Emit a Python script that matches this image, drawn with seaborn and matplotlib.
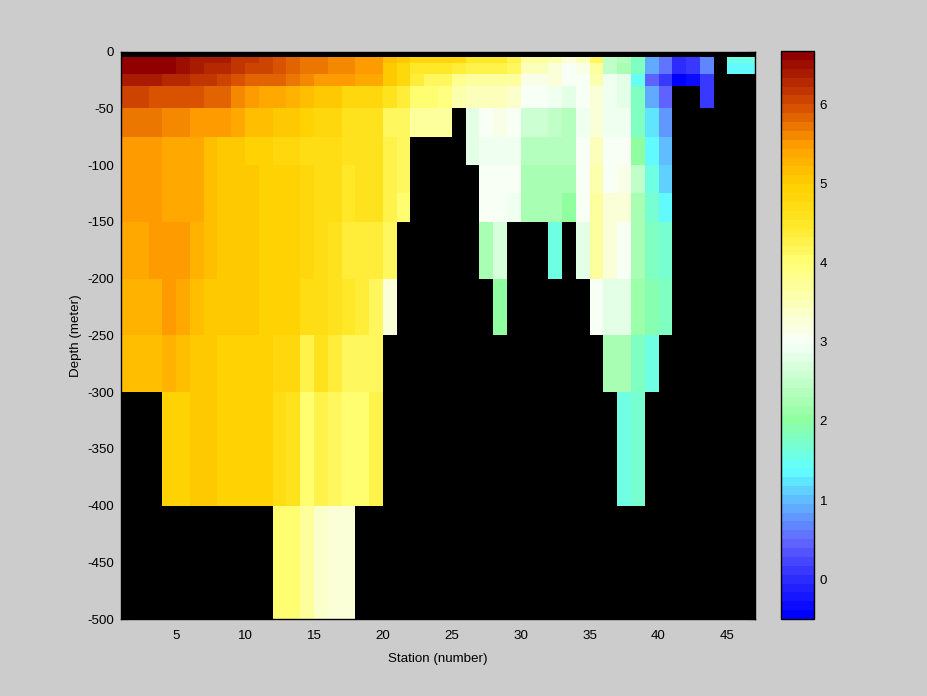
import numpy as np
import pandas as pd
import matplotlib
matplotlib.use('Agg')
import matplotlib.pyplot as plt
import seaborn as sns
from matplotlib.colors import LinearSegmentedColormap

n = np.nan

# station index of the left edge of each cell (cells run from station k to k+1)
stations = list(range(1, 47))
# layer boundaries in metres
depth_edges = [0, 5, 10, 20, 30, 50, 75, 100, 125, 150, 200, 250, 300, 400, 500]

# one list per depth layer, stations 1..46 (nan = no data, drawn black)
layer_0_5 = [n] * 46
layer_5_10 = [6.6, 6.6, 6.6, 6.6, 6.5, 6.4, 6.35, 6.35, 6.2, 6.2,
              6.05, 5.95, 5.85, 5.75, 5.75, 5.65, 5.55, 5.45, 5.45, 5.2,
              5.05, 4.8, 4.8, 4.8, 4.8, 4.5, 4.45, 4.45, 4.25, 3.75,
              3.75, 3.55, 3.2, 3.45, 4.2, 2.45, 2.35, 1.75, 0.9, 0.55,
              -0.05, 0.15, 0.7, n, 1.55, 1.55]
layer_10_20 = [6.6, 6.6, 6.6, 6.6, 6.5, 6.4, 6.25, 6.25, 6.15, 6.05,
               6.05, 5.95, 5.85, 5.75, 5.75, 5.65, 5.55, 5.45, 5.45, 5.0,
               4.8, 4.5, 4.5, 4.5, 4.4, 4.3, 4.3, 4.3, 4.1, 3.5,
               3.5, 3.3, 3.0, 3.1, 3.65, 2.45, 2.3, 1.75, 0.9, 0.55,
               -0.05, 0.15, 0.7, n, 1.3, 1.3]
layer_20_30 = [6.35, 6.35, 6.35, 6.25, 6.25, 6.15, 6.15, 6.05, 5.95, 5.85,
               5.8, 5.8, 5.7, 5.6, 5.5, 5.5, 5.45, 5.35, 5.35, 5.0,
               4.8, 4.4, 4.1, 4.1, 3.8, 3.75, 3.75, 3.7, 3.65, 3.15,
               3.15, 3.3, 3.0, 3.05, 3.6, 2.9, 2.8, 1.5, 0.5, 0.1,
               -0.5, -0.3, 0.15, n, n, n]
layer_30_50 = [6.05, 6.05, 5.95, 5.95, 5.9, 5.9, 5.8, 5.8, 5.55, 5.5,
               5.4, 5.4, 5.3, 5.15, 5.05, 5.05, 4.85, 4.85, 4.85, 4.6,
               4.4, 4.0, 4.0, 3.95, 3.55, 3.5, 3.5, 3.45, 3.4, 3.05,
               3.05, 2.9, 2.75, 3.0, 3.3, 2.9, 2.75, 1.75, 0.95, 0.4,
               n, n, 0.15, n, n, n]
layer_50_75 = [5.7, 5.7, 5.7, 5.55, 5.55, 5.5, 5.5, 5.45, 5.35, 5.15,
               5.15, 5.0, 5.0, 4.9, 4.8, 4.8, 4.55, 4.65, 4.65, 4.2,
               4.1, 3.7, 3.7, 3.7, n, 2.75, 3.0, 3.15, 3.05, 2.6,
               2.6, 2.45, 2.35, 2.9, 3.3, 2.9, 2.9, 1.75, 1.25, 0.75,
               n, n, n, n, n, n]
layer_75_100 = [5.45, 5.45, 5.45, 5.4, 5.4, 5.4, 5.15, 5.0, 5.0, 4.95,
                4.95, 4.85, 4.85, 4.75, 4.75, 4.75, 4.55, 4.65, 4.65, 4.25,
                4.1, n, n, n, n, 2.75, 2.9, 2.9, 2.9, 2.35,
                2.35, 2.35, 2.35, 3.0, 3.45, 3.05, 3.05, 2.0, 1.4, 1.0,
                n, n, n, n, n, n]
layer_100_125 = [5.45, 5.45, 5.45, 5.4, 5.4, 5.4, 5.15, 5.05, 5.05, 5.0,
                 4.9, 4.9, 4.9, 4.8, 4.75, 4.75, 4.45, 4.55, 4.65, 4.25,
                 4.1, n, n, n, n, n, 3.0, 3.0, 3.0, 2.25,
                 2.25, 2.3, 2.25, 3.0, 3.6, 3.05, 3.15, 2.45, 1.6, 1.1,
                 n, n, n, n, n, n]
layer_125_150 = [5.45, 5.45, 5.45, 5.4, 5.4, 5.4, 5.15, 5.0, 5.0, 5.0,
                 4.9, 4.9, 4.9, 4.8, 4.75, 4.75, 4.45, 4.55, 4.55, 4.3,
                 4.0, n, n, n, n, n, 3.0, 3.0, 2.9, 2.3,
                 2.3, 2.3, 2.0, 3.0, 3.75, 3.2, 3.2, 2.3, 1.7, 1.3,
                 n, n, n, n, n, n]
layer_150_200 = [5.4, 5.4, 5.5, 5.45, 5.45, 5.3, 5.15, 5.0, 5.0, 5.0,
                 4.9, 4.9, 4.9, 4.85, 4.75, 4.6, 4.35, 4.35, 4.35, 4.2,
                 n, n, n, n, n, n, 2.25, 2.7, n, n,
                 n, 1.55, n, 2.75, 3.75, 3.2, 3.05, 2.3, 1.85, 1.7,
                 n, n, n, n, n, n]
layer_200_250 = [5.3, 5.3, 5.3, 5.45, 5.4, 5.2, 5.1, 5.0, 5.0, 5.0,
                 4.95, 4.95, 4.95, 4.75, 4.7, 4.55, 4.45, 4.35, 4.15, 3.3,
                 n, n, n, n, n, n, n, 2.0, n, n,
                 n, n, n, n, 3.0, 2.75, 2.75, 2.1, 1.9, 1.8,
                 n, n, n, n, n, n]
layer_250_300 = [5.15, 5.15, 5.15, 5.25, 5.15, 5.0, 5.0, 4.95, 4.9, 4.9,
                 4.9, 4.85, 4.85, 4.25, 4.55, 4.35, 4.2, 4.1, 4.1, n,
                 n, n, n, n, n, n, n, n, n, n,
                 n, n, n, n, n, 2.25, 2.25, 1.85, 1.6, n,
                 n, n, n, n, n, n]
layer_300_400 = [n, n, n, 4.95, 4.9, 5.05, 5.05, 4.95, 4.95, 4.9,
                 4.9, 4.7, 4.6, 4.0, 4.3, 4.1, 4.0, 4.0, 4.25, n,
                 n, n, n, n, n, n, n, n, n, n,
                 n, n, n, n, n, n, 1.6, 1.7, n, n,
                 n, n, n, n, n, n]
layer_400_500 = [n, n, n, n, n, n, n, n, n, n,
                 n, 4.05, 4.05, 3.7, 3.4, 3.3, 3.3, n, n, n,
                 n, n, n, n, n, n, n, n, n, n,
                 n, n, n, n, n, n, n, n, n, n,
                 n, n, n, n, n, n]

x_ticks = [5, 10, 15, 20, 25, 30, 35, 40, 45]
y_ticks = [0, 50, 100, 150, 200, 250, 300, 350, 400, 450, 500]
cbar_ticks = [0, 1, 2, 3, 4, 5, 6]
vmin, vmax = -0.5, 6.67

layers = [layer_0_5, layer_5_10, layer_10_20, layer_20_30, layer_30_50,
          layer_50_75, layer_75_100, layer_100_125, layer_125_150,
          layer_150_200, layer_200_250, layer_250_300, layer_300_400,
          layer_400_500]
grid = np.array(layers, dtype=float)

# heatmap cells are uniform, so repeat each layer by its thickness in 5 m steps
step = 5
reps = np.diff(depth_edges) // step
fine = pd.DataFrame(np.repeat(grid, reps, axis=0), columns=stations)

# MATLAB-like colormap, 64 levels
anchor_vals = [-0.5, 0.0, 0.4, 1.0, 1.35, 2.0, 3.0, 4.0, 4.5, 5.0, 5.5, 6.0, 6.67]
anchor_cols = ['#0000ff', '#3030ff', '#6060ff', '#60c0ff', '#60ffff', '#90ffa0',
               '#f8fff8', '#ffff78', '#ffe828', '#ffd000', '#ffa000', '#d85000',
               '#900000']
pos = [(v - vmin) / (vmax - vmin) for v in anchor_vals]
cmap = LinearSegmentedColormap.from_list('sect', list(zip(pos, anchor_cols)), N=64)

sns.set_style('white')
plt.rcParams['font.family'] = ['Liberation Sans', 'DejaVu Sans']
plt.rcParams['font.size'] = 9.6

fig = plt.figure(figsize=(9.28, 6.96), dpi=100, facecolor='#cccccc')
ax = fig.add_axes([0.1304, 0.1106, 0.6832, 0.8154])
cax = fig.add_axes([0.8416, 0.1106, 0.0356, 0.8160])
ax.set_facecolor('black')

sns.heatmap(fine, cmap=cmap, vmin=vmin, vmax=vmax, ax=ax, cbar_ax=cax,
            xticklabels=False, yticklabels=False, linewidths=0)

ax.set_xticks([s - 1 for s in x_ticks])
ax.set_xticklabels([str(s) for s in x_ticks], rotation=0)
ax.set_yticks([d / step for d in y_ticks])
ax.set_yticklabels([str(-d) if d else '0' for d in y_ticks], rotation=0)
ax.tick_params(direction='in', length=5, color='black', labelcolor='black',
               bottom=True, left=True, top=True, right=True, labelsize=9.6)
ax.tick_params(axis='x', pad=8)
ax.tick_params(axis='y', pad=5)
for sp in ax.spines.values():
    sp.set_visible(True)
    sp.set_color('black')
    sp.set_linewidth(1)
ax.set_xlabel('Station (number)', fontsize=9.6, color='black', labelpad=7.5)
ax.set_ylabel('Depth (meter)', fontsize=9.6, color='black', labelpad=4)

cb = ax.collections[0].colorbar
cb.set_ticks(cbar_ticks)
cb.set_ticklabels([str(t) for t in cbar_ticks])
cb.outline.set_visible(True)
cb.outline.set_edgecolor('black')
cb.outline.set_linewidth(1)
cax.tick_params(direction='in', length=5, left=True, right=True,
                labelleft=False, labelright=True, color='black',
                labelcolor='black', labelsize=9.6, pad=4)

fig.savefig('out.png', dpi=100, facecolor=fig.get_facecolor())
